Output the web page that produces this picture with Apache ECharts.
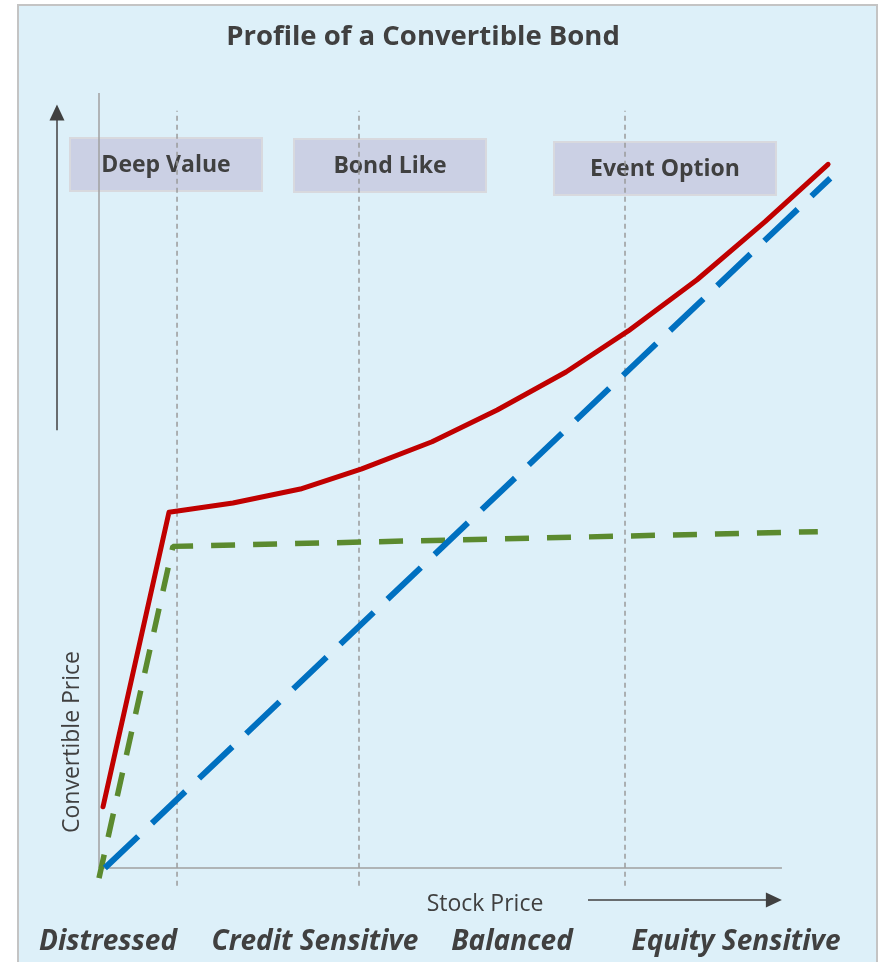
<!DOCTYPE html>
<html>
<head>
<meta charset="utf-8">
<script src="https://cdn.jsdelivr.net/npm/echarts@6/dist/echarts.min.js"></script>
<style>
  html, body { margin: 0; padding: 0; background: #ffffff; }
  #frame { position: absolute; left: 17px; top: 4px; width: 861px; height: 980px;
           background: #DDF0F9; border: 2px solid #C4C4C4; box-sizing: border-box; }
  #chart { position: absolute; left: 0; top: 0; width: 882px; height: 962px; }
</style>
</head>
<body>
<div id="frame"></div>
<div id="chart"></div>
<script>
// Stock price (x) vs. convertible price (y), arbitrary units 0..100
const convertibleCurve = [
  [0.55, 7.9], [9.56, 45.9], [18.3, 47.1], [27.5, 48.9], [35.9, 51.5],
  [45.5, 55.0], [54.4, 59.1], [63.8, 64.0], [72.3, 69.3], [81.7, 75.9],
  [91.0, 83.4], [99.6, 90.8]
];
const bondFloor = [[0, -1.3], [10.1, 41.5], [98.2, 43.4]];
const conversionValue = [[0.8, 0], [99.9, 89.0]];

// Boundaries between the four stock-price regimes
const regimeBounds = [10.66, 35.52, 71.86];
const regimeNames = ['Distressed', 'Credit Sensitive', 'Balanced', 'Equity Sensitive'];
const phaseNames = ['Deep Value', 'Bond Like', 'Event Option'];

const TEXT = '#404040';
const FONT = '"Open Sans"';

const chart = echarts.init(document.getElementById('chart'), null, { renderer: 'canvas' });

const dividerSeries = regimeBounds.map(function (x) {
  return {
    type: 'line', silent: true, symbol: 'none', z: 1,
    data: [[x, -2.3], [x, 97.7]],
    lineStyle: { color: '#9A9A9A', width: 1.5, type: [5, 4] }
  };
});

// Label boxes above the chart (pixel layout)
const boxes = [
  { x: 69, y: 137, w: 192, h: 53 },
  { x: 293, y: 138, w: 192, h: 53 },
  { x: 553, y: 141, w: 222, h: 53 }
];
const boxGraphics = boxes.map(function (b, i) {
  return {
    type: 'group', left: b.x, top: b.y, z: 5,
    children: [
      { type: 'rect', shape: { x: 0, y: 0, width: b.w, height: b.h },
        style: { fill: '#CBD0E4', stroke: '#D8D9DE', lineWidth: 2 } },
      { type: 'text', x: b.w / 2, y: b.h / 2 + 1,
        style: { text: phaseNames[i], fill: TEXT, font: 'bold 23px ' + FONT,
                 textAlign: 'center', textVerticalAlign: 'middle' } }
    ]
  };
});

const regimeCenters = [108, 315, 512, 736];
const regimeGraphics = regimeNames.map(function (name, i) {
  return {
    type: 'text', x: regimeCenters[i], y: 942, z: 5,
    style: { text: name, fill: TEXT, font: 'italic bold 28px ' + FONT,
             textAlign: 'center', textVerticalAlign: 'middle' }
  };
});

chart.setOption({
  animation: false,
  title: {
    text: 'Profile of a Convertible Bond',
    left: 418, top: 18, textAlign: 'center',
    textStyle: { color: TEXT, fontFamily: 'Open Sans', fontWeight: 'bold', fontSize: 27.5 }
  },
  grid: { left: 55.08, right: 51, top: 93, bottom: 55.25 },
  xAxis: { type: 'value', min: -6, max: 100, show: false },
  yAxis: { type: 'value', min: -5, max: 100, show: false },
  series: [
    {
      // axes drawn as plain gray lines
      type: 'line', silent: true, symbol: 'none', z: 1,
      data: [[0, 100], [0, 0], [93.3, 0]],
      lineStyle: { color: '#A0A0A0', width: 1.5 },
      markLine: {
        silent: true, symbol: ['none', 'triangle'], symbolSize: [15, 16],
        label: { show: false },
        lineStyle: { color: TEXT, width: 1.5, type: 'solid' },
        data: [
          [{ coord: [-5.74, 56.5] }, { coord: [-5.74, 97.5] }],
          [{ coord: [66.8, -4.13] }, { coord: [92.2, -4.13] }]
        ]
      }
    }
  ].concat(dividerSeries).concat([
    {
      name: 'Bond floor', type: 'line', symbol: 'none', z: 3,
      data: bondFloor,
      lineStyle: { color: '#5B8A2F', width: 5.5, type: [24, 18], cap: 'butt' }
    },
    {
      name: 'Conversion value', type: 'line', symbol: 'none', z: 3,
      data: conversionValue,
      lineStyle: { color: '#0070C0', width: 6, type: [46, 19], cap: 'butt' }
    },
    {
      name: 'Convertible price', type: 'line', symbol: 'none', z: 4,
      data: convertibleCurve,
      lineStyle: { color: '#C00000', width: 5, cap: 'round', join: 'round' }
    }
  ]),
  graphic: boxGraphics.concat(regimeGraphics).concat([
    { type: 'text', x: 485, y: 904, z: 5,
      style: { text: 'Stock Price', fill: TEXT, font: '23px ' + FONT,
               textAlign: 'center', textVerticalAlign: 'middle' } },
    { type: 'text', x: 72, y: 742, rotation: Math.PI / 2, z: 5,
      style: { text: 'Convertible Price', fill: TEXT, font: '23px ' + FONT,
               textAlign: 'center', textVerticalAlign: 'middle' } }
  ])
});
</script>
</body>
</html>
